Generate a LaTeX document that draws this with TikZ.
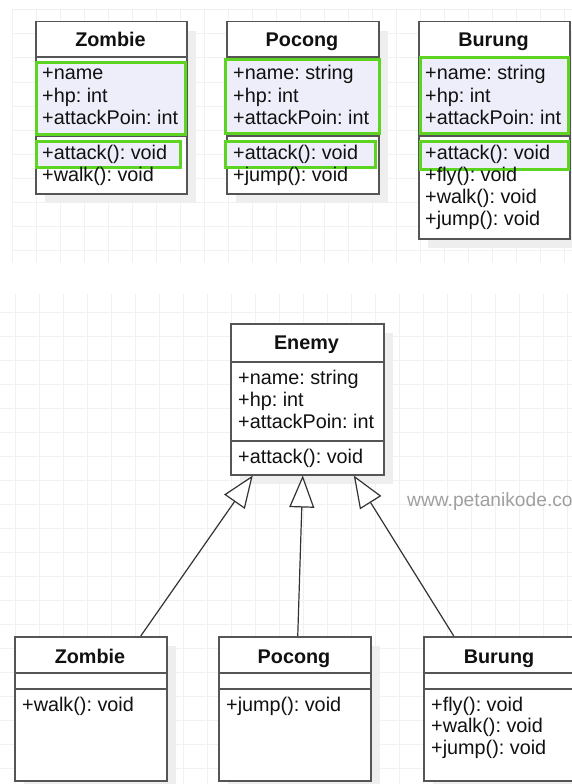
\documentclass[tikz,border=0pt]{standalone}
\usepackage{fontspec}
\setmainfont{Liberation Sans}
\usetikzlibrary{arrows.meta,shadows}
\definecolor{boxgray}{HTML}{555555}
\definecolor{linegray}{HTML}{333333}
\definecolor{gridgray}{HTML}{F1F1F1}
\definecolor{shadowgray}{HTML}{EEEEEE}
\definecolor{hlgreen}{RGB}{94,212,34}
\definecolor{hlfill}{HTML}{EEEEFA}
\definecolor{txt}{HTML}{111111}
\definecolor{wmgray}{HTML}{A0A0A0}
\tikzset{
  classbox/.style={draw=boxgray, line width=1.5pt, fill=white, inner sep=0pt, anchor=north west,
    drop shadow={shadow xshift=9pt, shadow yshift=-9pt, fill=shadowgray, opacity=1}},
  sepline/.style={draw=boxgray, line width=1.5pt},
  hlbox/.style={draw=hlgreen, line width=3pt, fill=hlfill},
  member/.style={anchor=base west, inner sep=0pt, text=txt, font=\fontsize{19.8}{22}\selectfont\frenchspacing},
  title/.style={anchor=base, inner sep=0pt, text=txt, font=\fontsize{19.8}{22}\selectfont\bfseries},
  gridline/.style={draw=gridgray, line width=1pt},
  inh/.style={draw=linegray, line width=1.2pt, -{Triangle[length=32pt, width=25pt, fill=white]}},
  wm/.style={anchor=base west, inner sep=0pt, text=wmgray, font=\fontsize{19.2}{22}\selectfont}
}
\begin{document}
\begin{tikzpicture}[x=1pt,y=-1pt]
\useasboundingbox (0,0) rectangle (572,784);
\clip (0,0) rectangle (572,784);
\fill[white] (0,0) rectangle (572,784);
% grids
\foreach \gx in {12,36,...,564} {\draw[gridline] (\gx,10) -- (\gx,262);}
\foreach \gy in {10,34,...,250} {\draw[gridline] (12,\gy) -- (572,\gy);}
\foreach \gx in {15,39,...,567} {\draw[gridline] (\gx,294) -- (\gx,784);}
\foreach \gy in {312,336,...,780} {\draw[gridline] (0,\gy) -- (572,\gy);}

% ---------- top row ----------
\node[classbox, minimum width=151, minimum height=172] (tz) at (35,21) {};
\node[classbox, minimum width=152, minimum height=172] (tp) at (226,21) {};
\node[classbox, minimum width=151, minimum height=217] (tb) at (418,21) {};
\draw[sepline] (35,57) -- (186,57) (35,136) -- (186,136);
\draw[sepline] (226,57) -- (378,57) (226,136) -- (378,136);
\draw[sepline] (418,57) -- (569,57) (418,136) -- (569,136);
\draw[hlbox] (36,63) rectangle (185,134);
\draw[hlbox] (36,141) rectangle (180,167);
\draw[hlbox] (225,60) rectangle (379,133);
\draw[hlbox] (225,141) rectangle (375,167);
\draw[hlbox] (420,58) rectangle (568,133);
\draw[hlbox] (420,141) rectangle (568,169);

\node[title] (tzt) at (110.5,47) {Zombie};
\node[title] (tpt) at (302,47) {Pocong};
\node[title] (tbt) at (493.5,47) {Burung};

\node[member] (tz1) at (42,80) {+name};
\node[member] (tz2) at (42,102) {+hp: int};
\node[member] (tz3) at (42,124) {+attackPoin: int};
\node[member] (tz4) at (42,159) {+attack(): void};
\node[member] (tz5) at (42,181) {+walk(): void};

\node[member] (tp1) at (233,80) {+name: string};
\node[member] (tp2) at (233,102) {+hp: int};
\node[member] (tp3) at (233,124) {+attackPoin: int};
\node[member] (tp4) at (233,159) {+attack(): void};
\node[member] (tp5) at (233,181) {+jump(): void};

\node[member] (tb1) at (425,80) {+name: string};
\node[member] (tb2) at (425,102) {+hp: int};
\node[member] (tb3) at (425,124) {+attackPoin: int};
\node[member] (tb4) at (425,159) {+attack(): void};
\node[member] (tb5) at (425,181) {+fly(): void};
\node[member] (tb6) at (425,203) {+walk(): void};
\node[member] (tb7) at (425,225) {+jump(): void};

% ---------- Enemy ----------
\node[classbox, minimum width=153, minimum height=151] (en) at (230,323) {};
\draw[sepline] (230,362) -- (383,362) (230,441) -- (383,441);
\node[title] (ent) at (306.5,349) {Enemy};
\node[member] (en1) at (238,384) {+name: string};
\node[member] (en2) at (238,406) {+hp: int};
\node[member] (en3) at (238,428) {+attackPoin: int};
\node[member] (en4) at (238,463) {+attack(): void};

\node[wm] (wmark) at (407,506) {www.petanikode.co};

% ---------- bottom row ----------
\node[classbox, minimum width=152, minimum height=144] (bz) at (14,636) {};
\node[classbox, minimum width=152, minimum height=144] (bp) at (218,636) {};
\node[classbox, minimum width=152, minimum height=144] (bb) at (423,636) {};
\draw[sepline] (14,673) -- (166,673) (14,689) -- (166,689);
\draw[sepline] (218,673) -- (370,673) (218,689) -- (370,689);
\draw[sepline] (423,673) -- (575,673) (423,689) -- (575,689);
\node[title] (bzt) at (90,663) {Zombie};
\node[title] (bpt) at (294,663) {Pocong};
\node[title] (bbt) at (499,663) {Burung};
\node[member] (bz1) at (22,711) {+walk(): void};
\node[member] (bp1) at (226,711) {+jump(): void};
\node[member] (bb1) at (431,711) {+fly(): void};
\node[member] (bb2) at (431,732) {+walk(): void};
\node[member] (bb3) at (431,754) {+jump(): void};

% ---------- inheritance ----------
\draw[inh] ([xshift=50pt]bz.north) -- ([xshift=-54.5pt]en.south);
\draw[inh] ([xshift=3pt]bp.north) -- ([xshift=-4.5pt]en.south);
\draw[inh] ([xshift=-46pt]bb.north) -- ([xshift=46.5pt]en.south);
\end{tikzpicture}
\end{document}
